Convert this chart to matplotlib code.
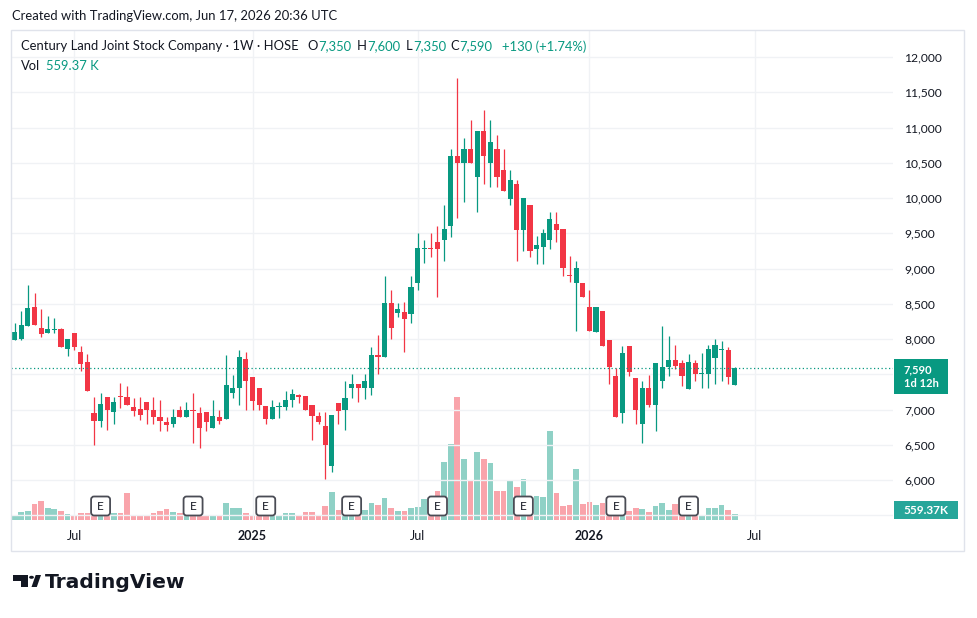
import matplotlib.pyplot as plt
from matplotlib.patches import Rectangle, FancyBboxPatch, Polygon, Circle
from matplotlib.transforms import IdentityTransform

W, H = 977, 618

# weekly OHLC, Apr 29 2024 .. Jun 15 2026 (Tet weeks have no bar)
opens = [7990, 8000, 8180, 8460, 8150, 8090, 8130, 8140, 7860, 8080,
         7820, 7680, 6950, 6840, 7180, 6970, 7190, 7180, 7030, 7010,
         7100, 6990, 6900, 6830, 6790, 6990, 6900, 6990, 6950, 6960,
         6740, 6900, 6870, 7230, 7300, 7710, 7460, 7310, 7050, 6870,
         7030, 7030, 7130, 7200, 7190, 7060, 6910, 6760, 6200, 7090,
         6990, 7310, 7360, 7300, 7310, 7770, 7750, 8510, 8370, 8380,
         8360, 8800, 9280, 9290, 9370, 9400, 9600, 10600, 10500, 10700,
         10300, 10950, 10500, 10700, 10400, 9980, 10200, 9540, 9900, 9270,
         9310, 9400, 9630, 9560, 8910, 8790, 8800, 8450, 8100, 8400,
         7990, 7470, 6950, 7900, 7450, 6790, 7300, 7070, 7400, 7600,
         7700, 7660, 7290, 7660, 7500, 7500, 7730, 7840, 7850, 7350]
highs = [8230, 8400, 8760, 8650, 8430, 8320, 8300, 8160, 8000, 8090,
         7900, 7790, 7180, 7240, 7180, 7180, 7380, 7330, 7160, 7180,
         7110, 7180, 7140, 6900, 7010, 7050, 7110, 7240, 7030, 6960,
         7140, 6990, 7770, 7490, 7850, 7810, 7460, 7310, 7050, 7130,
         7100, 7260, 7290, 7220, 7190, 7060, 6960, 6960, 6920, 7090,
         7410, 7500, 7360, 7500, 7890, 8060, 8890, 8700, 8510, 8530,
         8890, 9500, 9400, 9500, 9600, 9900, 10700, 11700, 10850, 11100,
         10950, 11250, 11100, 10900, 10700, 10400, 10250, 10000, 9900, 9460,
         9560, 9800, 9800, 9560, 9180, 9100, 8800, 8700, 8450, 8400,
         7990, 7590, 7900, 7900, 7450, 7400, 7490, 7660, 8190, 8040,
         7910, 7700, 7790, 7700, 7800, 7920, 8000, 7970, 7880, 7600]
lows = [7980, 7990, 8180, 8200, 8030, 8090, 8080, 7890, 7760, 7840,
        7550, 7260, 6500, 6750, 6710, 6800, 7020, 7060, 6910, 6850,
        6800, 6800, 6700, 6690, 6750, 6890, 6900, 6520, 6450, 6700,
        6740, 6800, 6870, 7170, 7070, 7000, 6990, 6990, 6800, 6870,
        6880, 6990, 7040, 7090, 6990, 6570, 6800, 6020, 6110, 6800,
        6710, 7170, 7100, 7150, 7210, 7500, 7750, 8000, 8310, 7810,
        8230, 8700, 9080, 9170, 8600, 9100, 9440, 9720, 9950, 10500,
        9800, 10200, 10150, 10150, 10100, 9900, 9100, 9250, 9170, 9060,
        9060, 9270, 9380, 8900, 8810, 8120, 8590, 8110, 8100, 7900,
        7360, 6900, 6810, 7470, 6790, 6520, 7030, 6700, 7310, 7480,
        7580, 7330, 7290, 7410, 7300, 7310, 7360, 7410, 7360, 7350]
closes = [8100, 8200, 8440, 8200, 8070, 8140, 8140, 7890, 8000, 7890,
          7650, 7260, 6840, 7080, 7000, 7100, 7180, 7060, 6980, 6920,
          6990, 6900, 6840, 6780, 6900, 6900, 6990, 6980, 6740, 6830,
          6910, 6840, 7350, 7310, 7750, 7400, 7120, 7070, 6870, 7030,
          7040, 7130, 7220, 7180, 6990, 6910, 6820, 6490, 6920, 6980,
          7170, 7360, 7300, 7400, 7770, 7750, 8510, 8160, 8430, 8290,
          8740, 9290, 9290, 9270, 9270, 9560, 10600, 10500, 10700, 10500,
          10950, 10600, 10800, 10300, 10100, 10250, 9540, 10000, 9250, 9340,
          9510, 9700, 9550, 9010, 8890, 9010, 8590, 8110, 8450, 7900,
          7600, 6900, 7800, 7530, 7000, 7300, 7070, 7660, 7600, 7700,
          7620, 7480, 7680, 7500, 7510, 7860, 7910, 7850, 7460, 7590]
# volume, thousands of shares
volumes_k = [373, 746, 867, 1491, 1771, 1118, 1025, 811, 559, 466,
             624, 652, 746, 652, 466, 624, 624, 2516, 373, 373,
             373, 624, 839, 1025, 746, 652, 373, 373, 373, 373,
             373, 466, 1584, 1090, 1090, 624, 466, 466, 466, 466,
             373, 624, 624, 466, 746, 746, 345, 1305, 2610, 932,
             466, 466, 466, 932, 1584, 1398, 2050, 1146, 839, 839,
             1146, 1240, 1985, 1305, 2703, 5406, 7083, 11436, 5685, 3728,
             6338, 5685, 5312, 2703, 2703, 3728, 3076, 3793, 1118, 2237,
             2172, 8323, 2516, 1305, 1370, 4753, 1491, 1678, 1398, 1584,
             932, 746, 746, 839, 1118, 1025, 746, 1305, 1584, 932,
             1491, 746, 746, 746, 466, 1118, 1118, 1398, 932, 559.37]
earnings_bars = [13, 27, 38, 51, 64, 77, 91, 102]
time_ticks = [9, 36, 61, 87, 112]
time_labels = ['Jul', '2025', 'Jul', '2026', 'Jul']
price_ticks = list(range(5500, 12001, 500))
hidden_ticks = [5500, 7500]  # covered by the price / volume tags

UP = '#089981'
DOWN = '#f23645'
TXT = '#131722'
FONT = 'Lato'


def px(x, y):
    # screenshot pixel -> figure fraction
    return x / W, 1 - y / H


fig = plt.figure(figsize=(W / 100, H / 100), dpi=100)
fig.patch.set_facecolor('white')

# chart frame
fig.add_artist(Rectangle(px(11, 551), (964 - 11) / W, (551 - 30) / H,
                         transform=fig.transFigure, fill=False,
                         ec='#e0e3eb', lw=1))

rect = [11 / W, 1 - 520 / H, (893 - 11) / W, (520 - 31) / H]
ax_v = fig.add_axes(rect)
ax = fig.add_axes(rect)
ax.patch.set_visible(False)

n = len(closes)
xs = list(range(n))
colors = [UP if c >= o else DOWN for o, c in zip(opens, closes)]

# volume overlay
ax_v.bar(xs, volumes_k, width=0.86, color=colors, alpha=0.45, lw=0)
ax_v.set_ylim(0, 45590)
ax_v.set_xlim(-0.56, 132.95)
ax_v.axis('off')

# candles
ax.vlines(xs, lows, highs, colors=colors, lw=0.9)
bottoms = [min(o, c) for o, c in zip(opens, closes)]
heights = [max(abs(c - o), 15) for o, c in zip(opens, closes)]
ax.bar(xs, heights, bottom=bottoms, width=0.78, color=colors, lw=0)

last = closes[-1]
ax.axhline(last, color=UP, ls=(0, (1, 2)), lw=0.9)

ax.set_xlim(-0.56, 132.95)
ax.set_ylim(5433, 12369)
for s in ax.spines.values():
    s.set_visible(False)
ax.grid(True, color='#f0f2f5', lw=1)
ax.set_axisbelow(True)

ax.yaxis.tick_right()
ax.set_yticks(price_ticks)
ax.set_yticklabels(['' if p in hidden_ticks else f'{p:,}' for p in price_ticks])
ax.tick_params(axis='y', length=0, pad=8, labelsize=8.7, labelcolor=TXT)
for t in ax.get_yticklabels():
    t.set_fontfamily(FONT)

ax.set_xticks(time_ticks)
ax.set_xticklabels(time_labels)
ax.tick_params(axis='x', length=0, pad=7, labelsize=9, labelcolor=TXT)
for t in ax.get_xticklabels():
    t.set_fontfamily(FONT)
    if t.get_text().isdigit():
        t.set_fontweight('bold')

# earnings markers
ident = IdentityTransform()
for k in earnings_bars:
    xd = ax.transData.transform((k, 6000))[0]
    yd = H - 506
    fig.add_artist(FancyBboxPatch((xd - 9.5, yd - 9.5), 19, 19,
                                  boxstyle='round,pad=0,rounding_size=3',
                                  transform=ident, fc='white', ec='#4a4c55',
                                  lw=1.3))
    fig.text(xd, yd, 'E', transform=ident, ha='center', va='center',
             fontsize=8.5, color=TXT, family=FONT)

# last price / volume tags
fig.add_artist(Rectangle(px(894, 394), 54 / W, 35 / H,
                         transform=fig.transFigure, color=UP, lw=0))
fig.text(*px(904, 376.5), f'{last:,}\n1d 12h', ha='left', va='center',
         fontsize=8, color='white', family=FONT, fontweight='bold',
         linespacing=1.3)
fig.add_artist(Rectangle(px(894, 519), 64 / W, 18 / H,
                         transform=fig.transFigure, color='#26a69a', lw=0))
fig.text(*px(926, 510.5), f'{volumes_k[-1]:.2f}K', ha='center', va='center',
         fontsize=8.5, color='white', family=FONT, fontweight='bold')

# header texts
fig.text(*px(11.5, 16.5), 'Created with TradingView.com, Jun 17, 2026 20:36 UTC',
         ha='left', va='center', fontsize=9.4, color=TXT, family=FONT)

chg = last - closes[-2]
pct = chg / closes[-2] * 100
fig.text(*px(20.6, 46.5), 'Century Land Joint Stock Company · 1W · HOSE',
         ha='left', va='center', fontsize=9.4, color=TXT, family=FONT)
groups = [(307, 'O', f'{opens[-1]:,}'), (357, 'H', f'{highs[-1]:,}'),
          (406, 'L', f'{lows[-1]:,}'), (450, 'C', f'{last:,}')]
for x, letter, val in groups:
    lab = fig.text(*px(x, 46.5), letter, ha='left', va='center',
                   fontsize=9.4, color=TXT, family=FONT)
    ax.annotate(val, xy=(1, 0.5), xycoords=lab, xytext=(0.5, 0),
                textcoords='offset points', ha='left', va='center',
                fontsize=9.4, color=UP, family=FONT, annotation_clip=False)
fig.text(*px(502, 46.5), f'+{chg} (+{pct:.2f}%)', ha='left', va='center',
         fontsize=9.4, color=UP, family=FONT)
fig.text(*px(20.6, 66), 'Vol', ha='left', va='center', fontsize=9.4,
         color=TXT, family=FONT)
fig.text(*px(46, 66), f'{volumes_k[-1]:.2f} K', ha='left', va='center',
         fontsize=9.4, color=UP, family=FONT)

# TradingView logo
logo = '#131722'
fig.add_artist(Polygon([px(13.3, 575), px(28.3, 575), px(28.3, 587),
                        px(20.7, 587), px(20.7, 580.5), px(13.3, 580.5)],
                       closed=True, transform=fig.transFigure, color=logo,
                       lw=0))
fig.add_artist(Circle(px(31.5, 577.3), 2.4 / W, transform=fig.transFigure,
                      color=logo, lw=0))
fig.add_artist(Polygon([px(31.5, 587), px(36.8, 587), px(41, 575),
                        px(35.7, 575)], closed=True,
                       transform=fig.transFigure, color=logo, lw=0))
fig.text(*px(45, 582), 'TradingView', ha='left', va='center', fontsize=14.6,
         fontweight='bold', color=logo, family='DejaVu Sans')

fig.savefig('out.png', dpi=100, facecolor='white')
